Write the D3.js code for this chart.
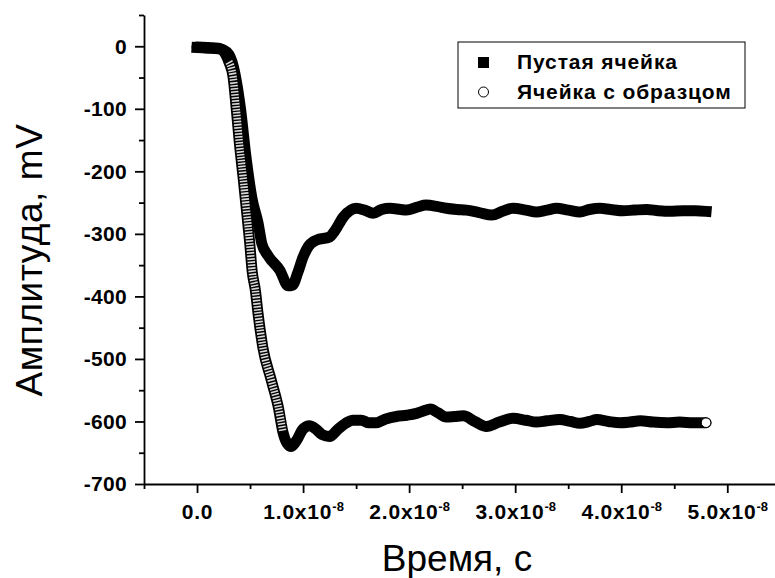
<!DOCTYPE html>
<html>
<head>
<meta charset="utf-8">
<script src="https://cdn.jsdelivr.net/npm/d3@7"></script>
<style>
body { margin: 0; background: #fff; }
svg { display: block; font-family: "Liberation Sans", Arial, sans-serif; }
</style>
</head>
<body>
<div class="chart-wrapper"></div>
<script>
const seriesNames = ['Пустая ячейка', 'Ячейка с образцом']

// time in units of 1e-8 s, amplitude in mV
const timeEmpty = [0.00, 0.10, 0.20, 0.25, 0.30, 0.33, 0.37, 0.41, 0.46, 0.52, 0.576, 0.61, 0.67, 0.78, 0.86, 0.90,
  0.95, 1.00, 1.05, 1.126, 1.25, 1.30, 1.38, 1.50, 1.58, 1.66, 1.74, 1.82, 1.92, 1.975, 2.08, 2.16, 2.26, 2.35,
  2.45, 2.54, 2.66, 2.78, 2.88, 2.98, 3.10, 3.20, 3.30, 3.39, 3.50, 3.61, 3.70, 3.80, 3.90, 4.02, 4.12, 4.24,
  4.35, 4.46, 4.58, 4.70, 4.80]
const ampEmpty = [-2, -3, -4, -6, -13, -25, -55, -100, -175, -245, -283, -315, -335, -358, -383, -382,
  -362, -337, -320, -310, -305, -295, -273, -259, -262, -267, -261, -259, -261, -262, -257, -254, -256, -259,
  -261, -262, -266, -270, -264, -259, -262, -265, -262, -259, -262, -265, -261, -259, -261, -263, -262, -261,
  -263, -264, -263, -263, -264]

const timeSample = [0.00, 0.10, 0.20, 0.25, 0.30, 0.34, 0.37, 0.40, 0.434, 0.466, 0.497, 0.52, 0.55, 0.575, 0.62,
  0.70, 0.765, 0.81, 0.85, 0.89, 0.94, 1.00, 1.06, 1.12, 1.18, 1.25, 1.32, 1.40, 1.47, 1.55, 1.62, 1.69, 1.78,
  1.88, 1.98, 2.07, 2.14, 2.20, 2.27, 2.35, 2.43, 2.51, 2.62, 2.73, 2.85, 2.98, 3.10, 3.20, 3.30, 3.42, 3.52,
  3.61, 3.70, 3.77, 3.88, 3.99, 4.08, 4.18, 4.30, 4.43, 4.55, 4.68, 4.80]
const ampSample = [-1, -2, -3, -8, -25, -49, -100, -156, -209, -262, -315, -360, -390, -427, -481,
  -534, -576, -617, -635, -640, -630, -612, -607, -612, -621, -624, -614, -603, -598, -598, -602, -602, -596,
  -592, -590, -587, -583, -580, -586, -593, -592, -591, -600, -608, -601, -595, -598, -601, -599, -597, -600,
  -603, -600, -597, -600, -602, -601, -599, -601, -602, -601, -602, -602]

const yTicks = [-700, -600, -500, -400, -300, -200, -100, 0]
const yMinorTicks = [-650, -550, -450, -350, -250, -150, -50, 50]
const xTicks = [0, 1, 2, 3, 4, 5]
const xMinorTicks = [-0.5, 0.5, 1.5, 2.5, 3.5, 4.5]
const xTickLabels = ['0.0', '1.0x10', '2.0x10', '3.0x10', '4.0x10', '5.0x10']
const xTickExp = '-8'
const xTitle = 'Время, с'
const yTitle = 'Амплитуда, mV'

const width = 775
const height = 578

const x = d3.scaleLinear().domain([-0.5, 5.45]).range([144, 775])
const y = d3.scaleLinear().domain([-700, 50]).range([484, 15])

const svg = d3.select('.chart-wrapper')
  .append('svg')
  .attr('width', width)
  .attr('height', height)

const empty = timeEmpty.map((t, i) => ({ t: t, v: ampEmpty[i] }))
const sample = timeSample.map((t, i) => ({ t: t, v: ampSample[i] }))

const line = d3.line()
  .x(d => x(d.t))
  .y(d => y(d.v))
  .curve(d3.curveMonotoneX)

// empty cell: filled squares, so dense they merge into one band
svg.append('path')
  .datum(empty)
  .attr('d', line)
  .style('fill', 'none')
  .style('stroke', '#000')
  .style('stroke-width', 11)
  .style('stroke-linecap', 'square')
  .style('stroke-linejoin', 'round')

// sample cell: open circles, same thing
svg.append('path')
  .datum(sample)
  .attr('d', line)
  .style('fill', 'none')
  .style('stroke', '#000')
  .style('stroke-width', 11)
  .style('stroke-linecap', 'round')
  .style('stroke-linejoin', 'round')

// where the curve is steep the stacked rings show through
let runs = []
let run = []
for (let i = 1; i < sample.length; i++) {
  const a = sample[i - 1], b = sample[i]
  const slope = Math.abs((y(b.v) - y(a.v)) / (x(b.t) - x(a.t)))
  if (slope > 3) {
    if (!run.length) run.push(a)
    run.push(b)
  } else if (run.length) {
    runs.push(run)
    run = []
  }
}
if (run.length) runs.push(run)

svg.append('g').selectAll('path')
  .data(runs)
  .enter()
  .append('path')
  .attr('d', line)
  .style('fill', 'none')
  .style('stroke', '#fff')
  .style('stroke-width', 7.5)
  .style('stroke-dasharray', '1.6 1.4')
  .style('opacity', 0.85)

svg.append('circle')
  .attr('cx', x(sample[sample.length - 1].t))
  .attr('cy', y(sample[sample.length - 1].v))
  .attr('r', 4.8)
  .style('fill', '#fff')
  .style('stroke', '#000')
  .style('stroke-width', 1)

// axes
const yaxis = svg.append('g')
  .attr('class', 'y axis')
  .attr('transform', 'translate(' + x(-0.5) + ',0)')
  .call(d3.axisLeft(y)
    .tickValues(yTicks)
    .tickFormat(d => String(d))
    .tickSize(9)
    .tickSizeOuter(0)
    .tickPadding(8))

svg.append('g')
  .attr('transform', 'translate(' + x(-0.5) + ',0)')
  .call(d3.axisLeft(y).tickValues(yMinorTicks).tickFormat('').tickSize(5))
  .call(g => g.select('.domain').remove())

const xaxis = svg.append('g')
  .attr('class', 'x axis')
  .attr('transform', 'translate(0,' + y(-700) + ')')
  .call(d3.axisBottom(x)
    .tickValues(xTicks)
    .tickFormat('')
    .tickSize(9)
    .tickSizeOuter(0))

svg.append('g')
  .attr('transform', 'translate(0,' + y(-700) + ')')
  .call(d3.axisBottom(x).tickValues(xMinorTicks).tickFormat('').tickSize(5))
  .call(g => g.select('.domain').remove())

svg.selectAll('.axis .domain, .tick line')
  .style('stroke', '#000')
  .style('stroke-width', 1.8)

yaxis.selectAll('text')
  .style('font-size', '21px')
  .style('font-weight', 'bold')
  .style('letter-spacing', '0.3px')
  .style('fill', '#000')

xaxis.selectAll('.tick')
  .append('text')
  .attr('y', 35)
  .attr('text-anchor', 'middle')
  .style('font-size', '21px')
  .style('font-weight', 'bold')
  .style('letter-spacing', '0.8px')
  .style('fill', '#000')
  .each(function(d, i) {
    const t = d3.select(this)
    t.append('tspan').text(xTickLabels[i])
    if (d !== 0) {
      t.append('tspan')
        .attr('dy', -8)
        .style('font-size', '13px')
        .style('letter-spacing', '0px')
        .text(xTickExp)
    }
  })

// titles
svg.append('text')
  .attr('x', 457)
  .attr('y', 571)
  .attr('text-anchor', 'middle')
  .style('font-size', '37px')
  .text(xTitle)

svg.append('text')
  .attr('transform', 'translate(42,260) rotate(-90)')
  .attr('text-anchor', 'middle')
  .style('font-size', '37px')
  .style('letter-spacing', '0.6px')
  .text(yTitle)

// legend
const legend = svg.append('g').attr('transform', 'translate(458,42)')

legend.append('rect')
  .attr('width', 287)
  .attr('height', 66)
  .style('fill', '#fff')
  .style('stroke', '#000')
  .style('stroke-width', 1)

legend.append('rect')
  .attr('x', 20)
  .attr('y', 15)
  .attr('width', 11)
  .attr('height', 11)
  .style('fill', '#000')

legend.append('circle')
  .attr('cx', 25.5)
  .attr('cy', 50)
  .attr('r', 5)
  .style('fill', '#fff')
  .style('stroke', '#000')
  .style('stroke-width', 1)

legend.selectAll('.label')
  .data(seriesNames)
  .enter()
  .append('text')
  .attr('class', 'label')
  .attr('x', 59)
  .attr('y', (d, i) => 27 + i * 30)
  .style('font-size', '21px')
  .style('font-weight', 'bold')
  .style('letter-spacing', '0.9px')
  .text(d => d)
</script>
</body>
</html>
